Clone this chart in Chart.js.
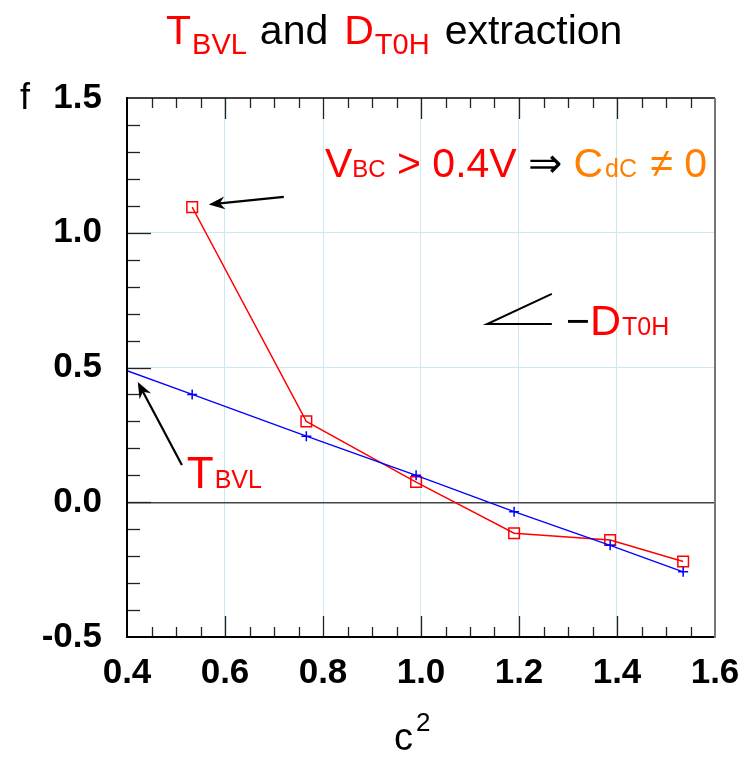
<!DOCTYPE html>
<html>
<head>
<meta charset="utf-8">
<script src="https://cdn.jsdelivr.net/npm/chart.js@4/dist/chart.umd.min.js"></script>
<style>
  body { margin: 0; background: #fff; }
  #wrap { width: 745px; height: 760px; position: relative; }
</style>
</head>
<body>
<div id="wrap"><canvas id="fChart"></canvas></div>
<script>
// c^2 points where f was extracted
const c2 = [0.533, 0.766, 0.99, 1.19, 1.386, 1.535];
// extracted f (red squares)
const fData = [1.095, 0.30, 0.075, -0.115, -0.14, -0.22];
// straight-line fit of f, first point sits on the left axis
const fitC2 = [0.4, 0.533, 0.766, 0.99, 1.19, 1.386, 1.535];
const fitF = [0.488, 0.40, 0.245, 0.10, -0.035, -0.16, -0.258];
// axis ticks
const xTicks = [0.4, 0.6, 0.8, 1.0, 1.2, 1.4, 1.6];
const yTicks = [-0.5, 0.0, 0.5, 1.0, 1.5];

const FONT = '"Liberation Sans", Arial, sans-serif';
const RED = '#ff0000', BLUE = '#0000ff', ORANGE = '#ff8000';
const GRID = '#cfe6f5';

/*
  @desc: writes a run of text pieces left to right (subscripts etc.)
*/
function drawRich(ctx, x, parts) {
  ctx.textAlign = 'left';
  ctx.textBaseline = 'alphabetic';
  for (const p of parts) {
    ctx.font = `${p.size}px ${FONT}`;
    ctx.fillStyle = p.color;
    ctx.fillText(p.text, x, p.y);
    x += ctx.measureText(p.text).width + (p.gap || 0);
  }
}

function arrow(ctx, x0, y0, x1, y1) {
  const a = Math.atan2(y1 - y0, x1 - x0);
  const len = 16, half = 6.5, notch = 11;
  ctx.beginPath();
  ctx.moveTo(x0, y0);
  ctx.lineTo(x1 - Math.cos(a) * notch, y1 - Math.sin(a) * notch);
  ctx.stroke();
  ctx.save();
  ctx.translate(x1, y1);
  ctx.rotate(a);
  ctx.beginPath();
  ctx.moveTo(0, 0);
  ctx.lineTo(-len, -half);
  ctx.lineTo(-notch, 0);
  ctx.lineTo(-len, half);
  ctx.closePath();
  ctx.fill();
  ctx.restore();
}

/*
  @desc: box round the plot with inward tick marks
*/
const framePlugin = {
  id: 'frame',
  afterDatasetsDraw(chart) {
    const {ctx, chartArea: a, scales: {x, y}} = chart;
    const seg = (x0, y0, x1, y1) => { ctx.beginPath(); ctx.moveTo(x0, y0); ctx.lineTo(x1, y1); ctx.stroke(); };
    ctx.save();
    ctx.strokeStyle = '#222';
    ctx.lineWidth = 1.3;
    // x: minor every 0.05, major every 0.2
    for (let i = 1; i < 24; i++) {
      const px = Math.round(x.getPixelForValue(0.4 + i * 0.05)) + 0.5;
      const len = i % 4 === 0 ? 21 : 10;
      seg(px, a.bottom, px, a.bottom - len);
      seg(px, a.top, px, a.top + len);
    }
    // y: minor every 0.1, major every 0.5
    for (let i = 1; i < 20; i++) {
      const py = Math.round(y.getPixelForValue(-0.5 + i * 0.1)) + 0.5;
      const len = i % 5 === 0 ? 24 : 13;
      seg(a.left, py, a.left + len, py);
    }
    ctx.lineWidth = 2;
    ctx.strokeStyle = '#000';
    seg(a.left, a.top - 1, a.left, a.bottom + 1);
    seg(a.left, a.bottom, a.right, a.bottom);
    ctx.lineWidth = 1.5;
    seg(a.left, a.top, a.right, a.top);
    ctx.strokeStyle = '#777';
    ctx.lineWidth = 2;
    seg(a.right, a.top, a.right, a.bottom + 1);
    ctx.restore();
  }
};

/*
  @desc: title, axis names, arrows and the notes inside the plot
*/
const notesPlugin = {
  id: 'notes',
  afterDraw(chart) {
    const {ctx, scales: {x, y}} = chart;
    const px = v => x.getPixelForValue(v);
    const py = v => y.getPixelForValue(v);
    ctx.save();

    drawRich(ctx, 166, [
      {text: 'T', size: 41, color: RED, y: 44, gap: 1},
      {text: 'BVL', size: 29, color: RED, y: 54, gap: 13},
      {text: 'and', size: 41, color: '#000', y: 44, gap: 16},
      {text: 'D', size: 41, color: RED, y: 44, gap: 1},
      {text: 'T0H', size: 29, color: RED, y: 54, gap: 15},
      {text: 'extraction', size: 41, color: '#000', y: 44}
    ]);

    // axis names
    drawRich(ctx, 20, [{text: 'f', size: 36, color: '#000', y: 109}]);
    drawRich(ctx, 394, [{text: 'c', size: 38, color: '#000', y: 750}]);
    drawRich(ctx, 416, [{text: '2', size: 26, color: '#000', y: 731}]);

    // arrows
    ctx.strokeStyle = '#000';
    ctx.fillStyle = '#000';
    ctx.lineWidth = 2.2;
    arrow(ctx, px(0.720), py(1.133), px(0.567), py(1.105));
    arrow(ctx, px(0.512), py(0.138), px(0.422), py(0.446));

    drawRich(ctx, px(0.522), [
      {text: 'T', size: 44, color: RED, y: py(0.053), gap: 1},
      {text: 'BVL', size: 25, color: RED, y: py(0.053)}
    ]);

    const yb = py(1.207);
    drawRich(ctx, px(0.804), [
      {text: 'V', size: 41, color: RED, y: yb},
      {text: 'BC', size: 24, color: RED, y: yb},
      {text: ' > 0.4V ', size: 41, color: RED, y: yb},
      {text: '\u21D2', size: 41, color: '#000', y: yb},
      {text: ' C', size: 41, color: ORANGE, y: yb, gap: 2},
      {text: 'dC', size: 25, color: ORANGE, y: yb, gap: 2},
      {text: ' \u2260 0', size: 41, color: ORANGE, y: yb}
    ]);

    // slope sign next to -D_T0H
    ctx.lineWidth = 2;
    ctx.beginPath();
    ctx.moveTo(px(1.267), py(0.773));
    ctx.lineTo(px(1.135), py(0.661));
    ctx.lineTo(px(1.267), py(0.661));
    ctx.stroke();

    const yd = py(0.621);
    drawRich(ctx, px(1.296), [
      {text: '\u2212', size: 41, color: '#000', y: yd},
      {text: 'D', size: 43, color: RED, y: yd, gap: 1},
      {text: 'T0H', size: 25, color: RED, y: yd}
    ]);

    ctx.restore();
  }
};

const tickFont = {family: FONT, size: 35, weight: 'bold'};

const config = {
  type: 'scatter',
  data: {
    datasets: [
      {
        label: 'fit',
        data: fitC2.map((v, i) => ({x: v, y: fitF[i]})),
        showLine: true,
        borderColor: BLUE,
        backgroundColor: BLUE,
        borderWidth: 1.3,
        pointStyle: 'cross',
        pointRadius: ctx => ctx.dataIndex === 0 ? 0 : 5,
        pointBorderWidth: 1.5,
        pointBorderColor: BLUE,
      },
      {
        label: 'f',
        data: c2.map((v, i) => ({x: v, y: fData[i]})),
        showLine: true,
        borderColor: RED,
        backgroundColor: 'transparent',
        borderWidth: 1.4,
        pointStyle: 'rect',
        pointRadius: 7.5,
        pointBorderWidth: 1.5,
        pointBorderColor: RED,
      },
    ],
  },
  options: {
    responsive: true,
    maintainAspectRatio: false,
    animation: false,
    layout: {padding: {top: 98, right: 30, left: 0, bottom: 0}},
    plugins: {
      legend: {display: false},
      tooltip: {enabled: false},
    },
    scales: {
      x: {
        type: 'linear',
        min: 0.4,
        max: 1.6,
        afterBuildTicks: s => { s.ticks = xTicks.map(v => ({value: v})); },
        afterFit: s => { s.height = 123; s.paddingLeft = 0; s.paddingRight = 0; },
        ticks: {
          font: tickFont,
          color: '#000',
          padding: 15,
          callback: v => v.toFixed(1),
        },
        grid: {
          drawTicks: false,
          color: ctx => (ctx.tick && (ctx.tick.value === 0.4 || ctx.tick.value === 1.6)) ? 'transparent' : GRID,
          lineWidth: 1,
        },
        border: {display: false},
      },
      y: {
        type: 'linear',
        min: -0.5,
        max: 1.5,
        afterBuildTicks: s => { s.ticks = yTicks.map(v => ({value: v})); },
        afterFit: s => { s.width = 127; s.paddingTop = 0; s.paddingBottom = 0; },
        ticks: {
          font: tickFont,
          color: '#000',
          padding: 25,
          callback: v => (Math.abs(v) < 1e-9 ? 0 : v).toFixed(1),
        },
        grid: {
          drawTicks: false,
          color: ctx => {
            const v = ctx.tick ? ctx.tick.value : null;
            if (v === 0) return '#444';
            if (v === -0.5 || v === 1.5) return 'transparent';
            return GRID;
          },
          lineWidth: ctx => (ctx.tick && ctx.tick.value === 0) ? 1.5 : 1,
        },
        border: {display: false},
      },
    },
  },
  plugins: [framePlugin, notesPlugin],
};

const fChart = new Chart(document.getElementById('fChart'), config);
</script>
</body>
</html>
